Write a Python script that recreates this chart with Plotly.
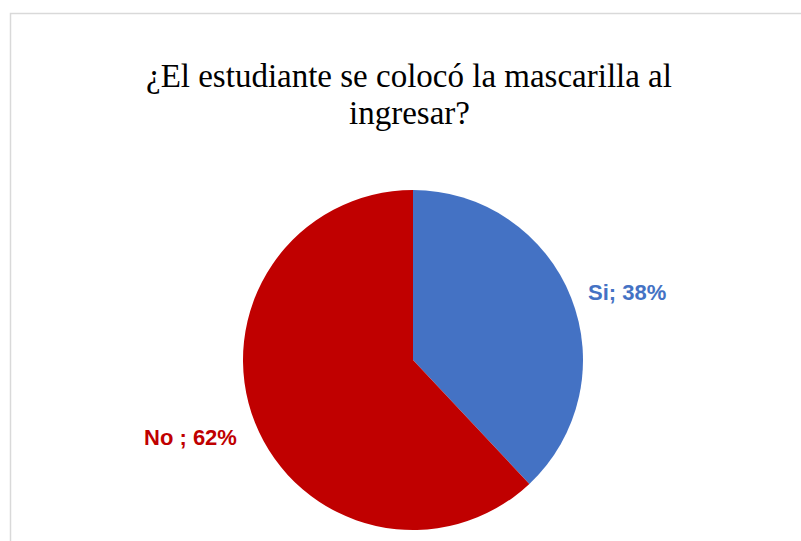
import plotly.graph_objects as go

labels = ["Si", "No "]
values = [38, 62]
colors = ["#4472C4", "#C00000"]
title_lines = ["¿El estudiante se colocó la mascarilla al", "ingresar?"]

W, H = 801, 541

fig = go.Figure()
fig.add_trace(go.Pie(
    labels=labels, values=values, sort=False, direction="clockwise", rotation=0,
    marker=dict(colors=colors, line=dict(width=0)),
    textinfo="none", hoverinfo="label+percent", showlegend=False,
    domain=dict(x=[243 / W, 583 / W], y=[1 - 530 / H, 1 - 190 / H]),
))

# labels
pos = [(627, 292), (190, 437)]
for lab, v, c, (px, py) in zip(labels, values, colors, pos):
    fig.add_annotation(
        x=px / W, y=1 - py / H, xref="paper", yref="paper",
        text=f"<b>{lab}; {v}%</b>", showarrow=False,
        font=dict(family="Liberation Sans, Arial", size=22, color=c),
        xanchor="center", yanchor="middle",
    )

for line, py in zip(title_lines, [76, 113]):
    fig.add_annotation(
        x=409 / W, y=1 - py / H, xref="paper", yref="paper",
        text=line, showarrow=False,
        font=dict(family="Liberation Serif, Times New Roman", size=33, color="#000000"),
        xanchor="center", yanchor="middle",
    )

fig.add_shape(type="rect", xref="paper", yref="paper",
              x0=10.5 / W, x1=1.05, y0=-0.05, y1=1 - 13.5 / H,
              line=dict(color="#D9D9D9", width=1.5), fillcolor="rgba(0,0,0,0)")

fig.update_layout(
    width=W, height=H, margin=dict(l=0, r=0, t=0, b=0),
    paper_bgcolor="white", plot_bgcolor="white",
)

fig.write_html("out.html")
